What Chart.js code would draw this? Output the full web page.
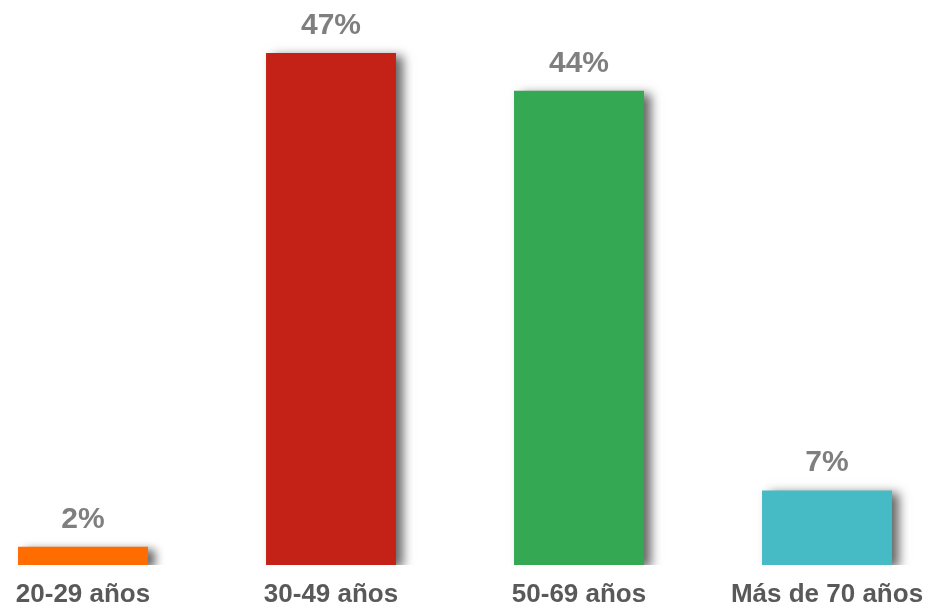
<!DOCTYPE html>
<html>
<head>
<meta charset="utf-8">
<script src="https://cdn.jsdelivr.net/npm/chart.js@4.4.1/dist/chart.umd.min.js"></script>
<style>
  html, body { margin: 0; padding: 0; background: #ffffff; overflow: hidden; width: 933px; height: 608px; }
  #wrap { position: absolute; left: -41px; top: 0; width: 992px; height: 608px; }
</style>
</head>
<body>
<div id="wrap"><canvas id="c"></canvas></div>
<script>
const categories = ["20-29 años", "30-49 años", "50-69 años", "Más de 70 años"];
const values = [1.7, 47.4, 43.9, 6.9];
const valueLabels = ["2%", "47%", "44%", "7%"];
const barColors = ["#ff6c00", "#c42216", "#34a853", "#46bbc5"];

const shadowPlugin = {
  id: 'barShadow',
  beforeDatasetDraw(chart) {
    const ctx = chart.ctx;
    ctx.save();
    ctx.shadowColor = 'rgba(0,0,0,0.6)';
    ctx.shadowBlur = 10;
    ctx.shadowOffsetX = 7;
    ctx.shadowOffsetY = 3;
  },
  afterDatasetDraw(chart) {
    chart.ctx.restore();
  }
};

const labelPlugin = {
  id: 'valueLabels',
  afterDatasetsDraw(chart) {
    const ctx = chart.ctx;
    const meta = chart.getDatasetMeta(0);
    ctx.save();
    ctx.font = 'bold 30px "Liberation Sans", Arial, sans-serif';
    ctx.fillStyle = '#7f7f7f';
    ctx.textAlign = 'center';
    ctx.textBaseline = 'alphabetic';
    meta.data.forEach((bar, i) => {
      ctx.fillText(valueLabels[i], bar.x, bar.y - 19);
    });
    ctx.restore();
  }
};

new Chart(document.getElementById('c'), {
  type: 'bar',
  data: {
    labels: categories,
    datasets: [{
      data: values,
      backgroundColor: barColors,
      borderWidth: 0,
      categoryPercentage: 1,
      barPercentage: 0.524
    }]
  },
  options: {
    responsive: true,
    maintainAspectRatio: false,
    animation: false,
    layout: { padding: 0 },
    plugins: { legend: { display: false }, tooltip: { enabled: false } },
    scales: {
      x: {
        grid: { display: false, drawTicks: false },
        border: { display: false },
        afterFit(scale) { scale.height = 43; },
        ticks: {
          color: '#595959',
          padding: 14,
          font: { family: '"Liberation Sans", Arial, sans-serif', size: 26, weight: 'bold', lineHeight: 1.2 }
        }
      },
      y: {
        display: false,
        min: 0,
        max: 52.3
      }
    }
  },
  plugins: [shadowPlugin, labelPlugin]
});
</script>
</body>
</html>
